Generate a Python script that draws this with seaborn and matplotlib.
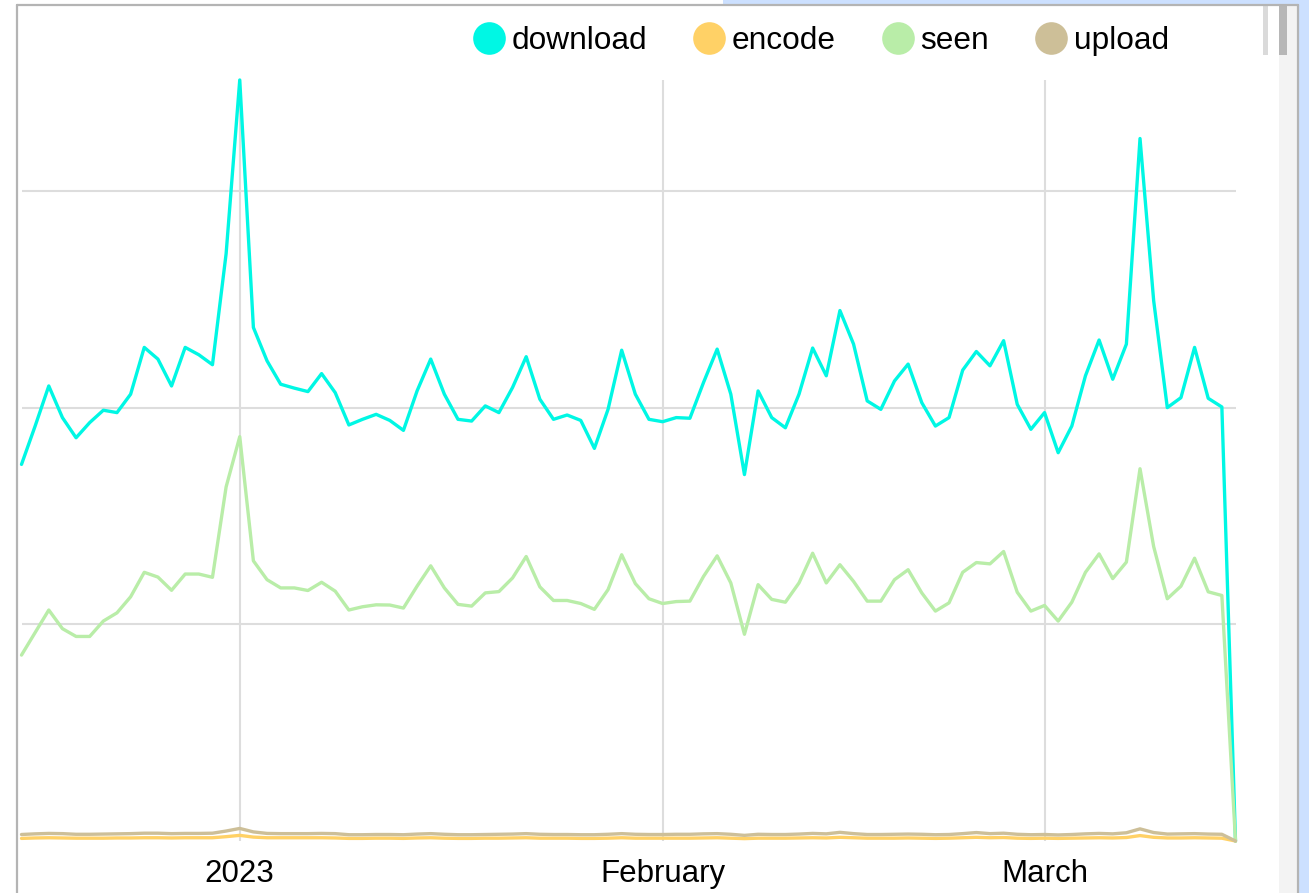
import numpy as np
import pandas as pd
import matplotlib
matplotlib.use("Agg")
import matplotlib.pyplot as plt
from matplotlib.lines import Line2D
from matplotlib.patches import Rectangle
import seaborn as sns

# ---------------- data ----------------
start_date = "2022-12-16"
end_date = "2023-03-15"

download = [
    173.8, 191.5, 210.0, 195.4, 186.1, 193.1, 198.8, 197.7, 206.2, 227.8, 222.4, 210.0, 227.8, 224.4, 219.8, 271.0,
    351.2, 237.0, 221.6, 210.8, 209.0, 207.4, 215.7, 206.9, 192.0, 194.6, 196.9, 194.1, 189.5, 207.7, 222.4, 206.2,
    194.6, 193.8, 200.8, 197.7, 209.3, 223.5, 203.9, 194.6, 196.6, 194.1, 181.2, 199.2, 226.5, 206.2, 194.6,
    193.5, 195.4, 195.1, 211.6, 227.0, 206.2, 169.1, 207.7, 195.4, 190.7, 206.2, 227.5, 214.7, 244.8, 229.3, 203.1,
    199.2, 212.3, 220.1, 202.3, 191.5, 195.4, 217.3, 225.9, 219.3, 230.9, 201.5, 190.0,
    197.7, 179.2, 191.5, 214.7, 231.2, 213.1, 229.3, 324.2, 249.4, 200.0, 204.6, 227.8, 204.3, 200.3, 0.0,
]
seen = [
    85.8, 96.2, 106.6, 98.0, 94.4, 94.4, 101.5, 105.3, 112.7, 124.0, 121.8, 115.7, 123.2, 123.2, 121.7, 163.4,
    186.6, 129.3, 120.6, 116.8, 116.8, 115.6, 119.4, 115.3, 106.6, 108.1, 109.0, 108.9, 107.5, 117.6, 127.0, 116.8,
    109.2, 108.4, 114.5, 115.1, 121.4, 131.3, 117.3, 111.0, 111.0, 109.6, 106.9, 116.0, 132.1, 118.8, 111.8,
    109.6, 110.5, 110.7, 122.1, 131.6, 119.1, 95.4, 118.3, 111.5, 110.2, 119.1, 132.8, 119.1, 127.5, 119.8, 110.7,
    110.7, 120.6, 125.2, 114.5, 106.1, 109.9, 124.0, 128.5, 127.9, 133.6, 114.8, 106.1,
    108.7, 101.5, 110.2, 124.0, 132.5, 121.1, 128.7, 171.8, 135.9, 111.8, 117.6, 130.5, 115.0, 113.3, 0.0,
]
upload = [
    3.0, 3.3, 3.5, 3.4, 3.1, 3.1, 3.2, 3.3, 3.4, 3.6, 3.6, 3.4, 3.5, 3.5, 3.6, 4.6,
    5.8, 4.2, 3.5, 3.4, 3.4, 3.4, 3.5, 3.4, 2.9, 2.9, 3.0, 3.0, 2.9, 3.2, 3.4, 3.1,
    2.9, 2.9, 3.0, 3.1, 3.2, 3.4, 3.1, 3.0, 3.0, 2.9, 2.9, 3.1, 3.4, 3.1, 3.0,
    3.0, 3.1, 3.1, 3.3, 3.4, 3.1, 2.6, 3.1, 3.0, 3.0, 3.2, 3.5, 3.3, 4.0, 3.4, 3.0,
    3.0, 3.1, 3.2, 3.1, 2.9, 3.0, 3.4, 3.9, 3.4, 3.6, 3.1, 2.9,
    3.0, 2.8, 3.0, 3.3, 3.5, 3.3, 3.8, 5.6, 3.9, 3.2, 3.3, 3.4, 3.2, 3.1, 0.0,
]
encode = [
    1.2, 1.4, 1.5, 1.4, 1.3, 1.3, 1.3, 1.4, 1.4, 1.5, 1.5, 1.4, 1.5, 1.5, 1.5, 2.0,
    2.6, 1.8, 1.5, 1.5, 1.5, 1.5, 1.5, 1.4, 1.2, 1.2, 1.3, 1.3, 1.2, 1.4, 1.5, 1.3,
    1.2, 1.2, 1.3, 1.3, 1.4, 1.5, 1.3, 1.3, 1.3, 1.2, 1.2, 1.3, 1.5, 1.3, 1.3,
    1.3, 1.3, 1.3, 1.4, 1.5, 1.3, 1.1, 1.3, 1.3, 1.3, 1.4, 1.5, 1.4, 1.7, 1.5, 1.3,
    1.3, 1.3, 1.4, 1.3, 1.2, 1.3, 1.5, 1.7, 1.5, 1.6, 1.3, 1.2,
    1.3, 1.2, 1.3, 1.4, 1.5, 1.4, 1.6, 2.5, 1.7, 1.4, 1.4, 1.5, 1.4, 1.3, 0.0,
]

series_names = ["download", "encode", "seen", "upload"]
series_colors = ["#00F7E4", "#FFD166", "#B9EDA8", "#CDBF98"]
tick_dates = ["2023-01-01", "2023-02-01", "2023-03-01"]
tick_labels = ["2023", "February", "March"]
y_grid = [100, 200, 300]

dates = pd.date_range(start_date, end_date, freq="D")
values = {"download": download, "encode": encode, "seen": seen, "upload": upload}
df = pd.concat(
    [pd.DataFrame({"date": dates, "value": values[n], "series": n}) for n in series_names],
    ignore_index=True,
)

# ---------------- style ----------------
sns.set_theme(style="white")
plt.rcParams["font.family"] = ["Liberation Sans", "DejaVu Sans"]

W, H = 1309, 893
fig = plt.figure(figsize=(W / 100, H / 100), dpi=100)
fig.patch.set_facecolor("white")

# browser-like frame decorations
fig.add_artist(Rectangle((723 / W, 1 - 5 / H), 1 - 723 / W, 5 / H, transform=fig.transFigure,
                         facecolor="#CCE0FF", edgecolor="none", zorder=0))
fig.add_artist(Rectangle((1299 / W, 0), 1 - 1299 / W, 1, transform=fig.transFigure,
                         facecolor="#CCE0FF", edgecolor="none", zorder=0))
fig.add_artist(Rectangle((1279 / W, 0), 18 / W, 1 - 6 / H, transform=fig.transFigure,
                         facecolor="#F3F3F3", edgecolor="none", zorder=0))
fig.add_artist(Rectangle((1279 / W, 1 - 55 / H), 8 / W, 49 / H, transform=fig.transFigure,
                         facecolor="#B7B7B7", edgecolor="none", zorder=1))
fig.add_artist(Rectangle((1263 / W, 1 - 55 / H), 5 / W, 49 / H, transform=fig.transFigure,
                         facecolor="#DADADA", edgecolor="none", zorder=1))
fig.add_artist(Line2D([17 / W, 17 / W], [0, 1 - 5 / H], transform=fig.transFigure,
                      color="#B4B4B4", linewidth=1.6, zorder=2))
fig.add_artist(Line2D([17 / W, 1298 / W], [1 - 5 / H, 1 - 5 / H], transform=fig.transFigure,
                      color="#B4B4B4", linewidth=1.6, zorder=2))
fig.add_artist(Line2D([1298 / W, 1298 / W], [0, 1 - 5 / H], transform=fig.transFigure,
                      color="#B4B4B4", linewidth=1.6, zorder=2))

# plot area
left, right, top, bottom = 21.5, 1235.5, 80, 841
ax = fig.add_axes([left / W, 1 - bottom / H, (right - left) / W, (bottom - top) / H])
ax.set_facecolor("none")

sns.lineplot(data=df, x="date", y="value", hue="series", hue_order=series_names,
             palette=dict(zip(series_names, series_colors)), linewidth=2.4,
             legend=False, ax=ax, clip_on=False, zorder=3)

ax.set_xlim(dates[0], dates[-1])
ax.set_ylim(0, max(download))

ax.set_yticks(y_grid)
ax.set_yticklabels([])
ax.set_xticks(pd.to_datetime(tick_dates))
ax.set_xticklabels(tick_labels, fontsize=22.5, color="black")
ax.tick_params(axis="x", length=0, pad=13)
ax.tick_params(axis="y", length=0)
ax.grid(True, color="#DDDDDD", linewidth=1.5, zorder=0)
for s in ax.spines.values():
    s.set_visible(False)
ax.set_xlabel("")
ax.set_ylabel("")

handles = [Line2D([], [], marker="o", linestyle="", markersize=23.5, color=c, markeredgewidth=0)
           for c in series_colors]
leg = fig.legend(handles, series_names, loc="center", bbox_to_anchor=(821 / W, 1 - 41 / H),
                 ncol=4, frameon=False, fontsize=22.8, handlelength=1.0, handletextpad=0.22,
                 columnspacing=1.45, borderpad=0)
for t in leg.get_texts():
    t.set_color("black")

fig.savefig("out.png", dpi=100)
